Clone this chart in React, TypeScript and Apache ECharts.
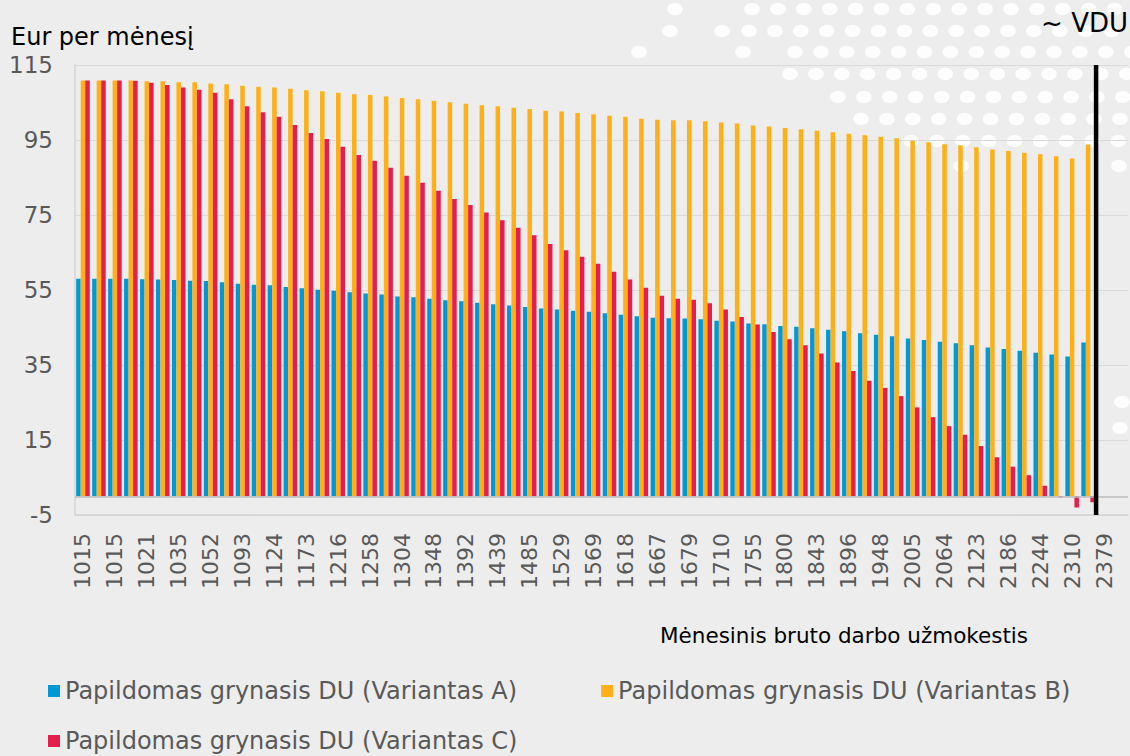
import React, { useEffect, useRef } from "react";
import * as echarts from "echarts";

// Labelled categories (every second category carries a label)
const labeledCategories = [
  "1015", "1015", "1021", "1035", "1052", "1093", "1124", "1173", "1216", "1258", "1304",
  "1348", "1392", "1439", "1485", "1529", "1569", "1618", "1667", "1679", "1710", "1755",
  "1800", "1843", "1896", "1948", "2005", "2064", "2123", "2186", "2244", "2310", "2379",
];

const seriesNames = [
  "Papildomas grynasis DU (Variantas A)",
  "Papildomas grynasis DU (Variantas B)",
  "Papildomas grynasis DU (Variantas C)",
];

const variantA = [
  58.0, 58.0, 58.0, 58.0, 57.9, 57.8, 57.7, 57.5, 57.4, 57.1, 56.7, 56.4, 56.3, 55.8, 55.5, 55.1,
  54.8, 54.4, 54.1, 53.8, 53.3, 53.1, 52.7, 52.3, 52.0, 51.6, 51.2, 50.9, 50.5, 50.1, 49.8, 49.5,
  49.2, 48.8, 48.4, 48.0, 47.6, 47.5, 47.4, 47.2, 46.8, 46.6, 46.1, 45.9, 45.4, 45.2, 44.8, 44.4,
  44.0, 43.5, 43.1, 42.7, 42.1, 41.7, 41.2, 40.8, 40.3, 39.7, 39.3, 38.8, 38.3, 37.8, 37.3, 41.0,
];

const variantB = [
  110.85, 110.85, 110.85, 110.85, 110.7, 110.7, 110.4, 110.4, 110.1, 109.9, 109.5, 109.2, 109.0,
  108.7, 108.3, 108.0, 107.6, 107.2, 107.0, 106.6, 106.2, 105.9, 105.5, 105.1, 104.7, 104.3, 104.0,
  103.6, 103.3, 102.8, 102.6, 102.2, 101.9, 101.5, 101.2, 100.7, 100.4, 100.3, 100.3, 100.0, 99.7,
  99.4, 98.9, 98.6, 98.2, 97.9, 97.5, 97.1, 96.7, 96.3, 95.9, 95.5, 94.8, 94.4, 93.9, 93.6, 93.1,
  92.5, 92.1, 91.6, 91.2, 90.7, 90.1, 93.8,
];

const variantC = [
  110.85, 110.85, 110.85, 110.8, 110.3, 109.7, 109.0, 108.4, 107.6, 105.9, 104.0, 102.4, 101.2,
  99.0, 96.9, 95.3, 93.2, 91.0, 89.5, 87.6, 85.5, 83.6, 81.5, 79.3, 77.7, 75.7, 73.6, 71.6, 69.6,
  67.3, 65.6, 63.9, 62.0, 59.9, 57.8, 55.6, 53.5, 52.7, 52.4, 51.5, 49.8, 47.8, 45.8, 43.8, 41.9,
  40.3, 38.1, 35.7, 33.4, 30.8, 28.9, 26.7, 23.7, 21.1, 18.7, 16.4, 13.4, 10.4, 7.9, 5.6, 2.8,
  -0.3, -3.0, -1.6,
];

const yMin = -5;
const yMax = 115;
const yInterval = 20;

const FONT = "DejaVu Sans";
const COLORS = ["#0099D6", "#FFB018", "#E61E4B"];

// decorative background dot rows: [y, startX, endX]
const dotRows: number[][] = [
  [9, 752, 1135],
  [31, 749, 1135],
  [52, 795, 1135],
  [74, 790, 1135],
  [97, 838, 1135],
  [119, 861, 1135],
  [141, 911, 1135],
];
const looseDots: number[][] = [
  [675, 9], [670, 31], [722, 31], [639, 52], [743, 52], [961, 166], [1119, 166], [1122, 402], [1120, 428],
];

export default function App() {
  const ref = useRef<HTMLDivElement>(null);

  useEffect(() => {
    const el = ref.current;
    if (!el) return;
    const chart = echarts.init(el, null, { renderer: "svg" });

    const categories: string[] = [];
    labeledCategories.forEach((l) => {
      categories.push(l);
      categories.push("");
    });

    const dots: any[] = [];
    let k = 0;
    dotRows.forEach(([y, x0, x1]) => {
      for (let x = x0; x <= x1; x += 25.9) {
        dots.push({
          id: "dot" + k++,
          type: "ellipse",
          z: -10,
          silent: true,
          shape: { cx: x, cy: y, rx: 7.8, ry: 6.2 },
          style: { fill: "#ffffff", opacity: 0.85 },
        });
      }
    });
    looseDots.forEach(([x, y]) => {
      dots.push({
        id: "dot" + k++,
        type: "ellipse",
        z: -10,
        silent: true,
        shape: { cx: x, cy: y, rx: 7.8, ry: 6.2 },
        style: { fill: "#ffffff", opacity: 0.85 },
      });
    });

    const barSeries = [variantA, variantB, variantC].map((d, i) => ({
      name: seriesNames[i],
      type: "bar",
      data: d,
      barGap: "0%",
      barCategoryGap: "15%",
      itemStyle: { color: COLORS[i] },
      ...(i === 0
        ? {
            markLine: {
              silent: true,
              symbol: ["none", "none"],
              label: { show: false },
              lineStyle: { color: "#BDBDBD", width: 1.5, type: "solid" },
              data: [{ yAxis: 0 }],
            },
          }
        : {}),
    }));

    const legendBase = {
      orient: "horizontal",
      icon: "rect",
      itemWidth: 12,
      itemHeight: 12,
      itemGap: 84,
      textStyle: { fontSize: 24, color: "#595959", fontFamily: FONT },
    };

    chart.setOption({
      animation: false,
      backgroundColor: "#EDEDED",
      textStyle: { fontFamily: FONT },
      grid: { left: 75, right: 2, top: 65, bottom: 241, containLabel: false },
      legend: [
        { ...legendBase, data: [seriesNames[0], seriesNames[1]], left: 43, top: 674 },
        { ...legendBase, data: [seriesNames[2]], left: 43, top: 724 },
      ],
      xAxis: {
        type: "category",
        data: categories,
        boundaryGap: true,
        name: "Mėnesinis bruto darbo užmokestis",
        nameLocation: "end",
        nameGap: 0,
        nameTextStyle: {
          fontSize: 21.5,
          color: "#000",
          fontFamily: FONT,
          align: "right",
          verticalAlign: "top",
          padding: [109, 100, 0, 0],
        },
        axisLine: { show: true, onZero: false, lineStyle: { color: "#D4D4D4", width: 1.5 } },
        axisTick: { show: false },
        axisLabel: {
          interval: 0,
          rotate: 90,
          fontSize: 22,
          color: "#595959",
          fontFamily: FONT,
          margin: 18,
        },
        splitLine: { show: false },
      },
      yAxis: {
        type: "value",
        min: yMin,
        max: yMax,
        interval: yInterval,
        axisLine: { show: true, lineStyle: { color: "#D4D4D4", width: 1.5 } },
        axisTick: { show: false },
        axisLabel: { fontSize: 23, color: "#595959", fontFamily: FONT, margin: 22 },
        splitLine: { show: true, lineStyle: { color: "#D9D9D9", width: 1 } },
      },
      series: barSeries,
      graphic: [
        ...dots,
        {
          id: "ytitle",
          type: "text",
          x: 11,
          y: 37,
          style: {
            text: "Eur per mėnesį",
            fontSize: 24,
            fontFamily: FONT,
            fill: "#000",
            verticalAlign: "middle",
          },
        },
        {
          id: "vdutext",
          type: "text",
          x: 1128,
          y: 23,
          style: {
            text: "~ VDU",
            fontSize: 26,
            fontFamily: FONT,
            fill: "#000",
            align: "right",
            verticalAlign: "middle",
          },
        },
      ],
    });

    // VDU marker line on the boundary between the last bar group and the next category
    const xa = chart.convertToPixel({ xAxisIndex: 0 }, 63) as number;
    const xb = chart.convertToPixel({ xAxisIndex: 0 }, 64) as number;
    const yTop = chart.convertToPixel({ yAxisIndex: 0 }, yMax) as number;
    const yBot = chart.convertToPixel({ yAxisIndex: 0 }, yMin) as number;
    const xm = (xa + xb) / 2;
    chart.setOption({
      graphic: [
        {
          id: "vduline",
          type: "line",
          z: 10,
          silent: true,
          shape: { x1: xm, y1: yTop, x2: xm, y2: yBot },
          style: { stroke: "#000", lineWidth: 4.5 },
        },
      ],
    });

    return () => chart.dispose();
  }, []);

  return (
    <div
      ref={ref}
      style={{ position: "fixed", left: 0, top: 0, width: 1130, height: 756 }}
    />
  );
}
